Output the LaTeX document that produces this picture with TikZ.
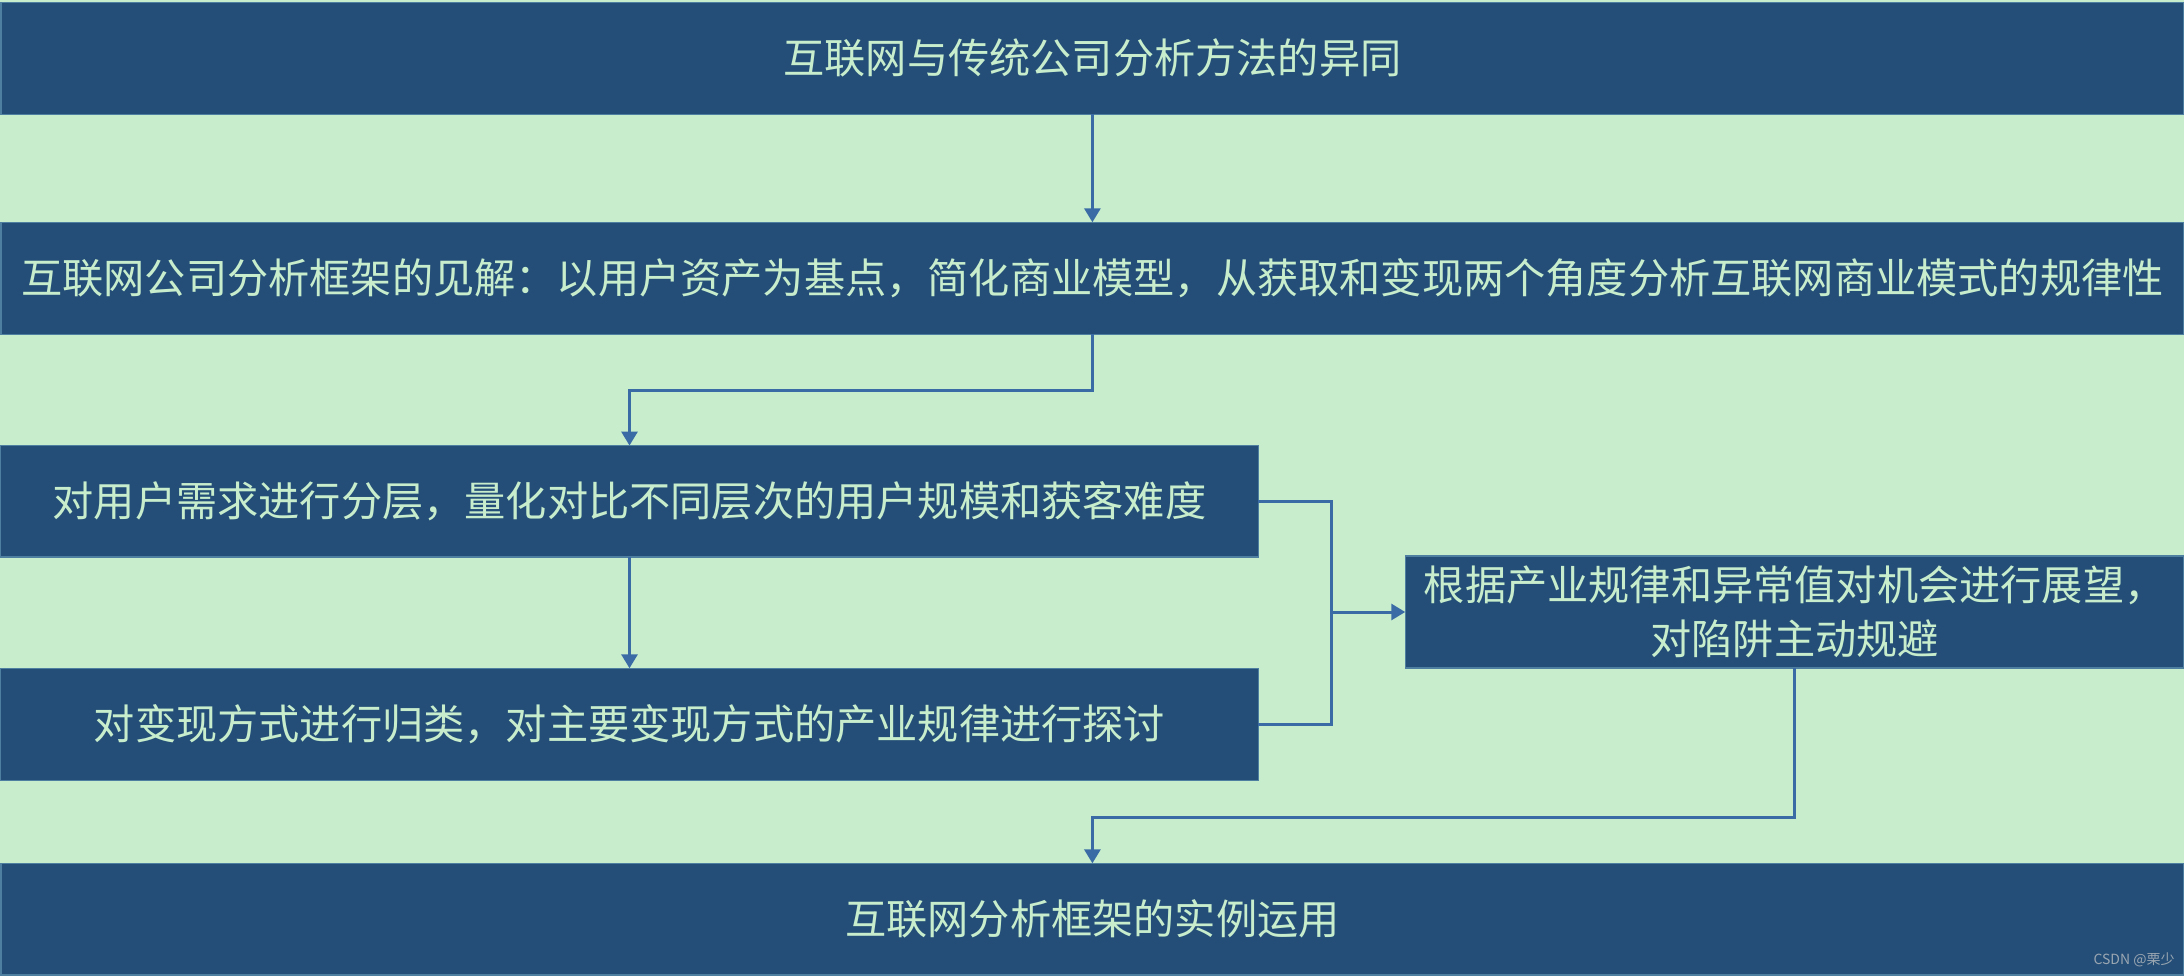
\documentclass[tikz,border=0pt]{standalone}
\usepackage{fontspec}
\newfontfamily\cjk{Noto Sans CJK SC}
\usetikzlibrary{arrows.meta}
\definecolor{bg}{HTML}{C7EDCD}
\definecolor{boxfill}{HTML}{244E77}
\definecolor{boxedge}{HTML}{4E7FA0}
\definecolor{txt}{HTML}{C7EDCD}
\definecolor{arrowc}{HTML}{3A6BA5}
\definecolor{wm}{HTML}{9AA6B2}
\tikzset{
  box/.style={rectangle, fill=boxfill, draw=boxedge, line width=1.5pt, inner sep=0pt, outer sep=0pt,
    text=txt, font=\cjk\fontsize{41.2}{54}\selectfont, align=center},
  ln/.style={draw=arrowc, line width=3pt},
  arr/.style={ln, -{Triangle[width=16pt,length=14pt]}}
}
\begin{document}
\begin{tikzpicture}[x=1pt,y=-1pt]
\fill[bg] (0,0) rectangle (2184,976);
\useasboundingbox (0,0) rectangle (2184,976);
\node[box, minimum width=2183pt, minimum height=112pt] (b1) at (1092.4,58.3) {互联网与传统公司分析方法的异同};
\node[box, minimum width=2183pt, minimum height=112pt] (b2) at (1092.4,278.3) {互联网公司分析框架的见解：以用户资产为基点，简化商业模型，从获取和变现两个角度分析互联网商业模式的规律性};
\node[box, minimum width=1257.6pt, minimum height=111.5pt] (b3) at (629.5,501.3) {对用户需求进行分层，量化对比不同层次的用户规模和获客难度};
\node[box, minimum width=1257.6pt, minimum height=112pt] (b4) at (629.5,724.3) {对变现方式进行归类，对主要变现方式的产业规律进行探讨};
\node[box, minimum width=778.7pt, minimum height=112pt] (b5) at (1794.6,612) {根据产业规律和异常值对机会进行展望，\\对陷阱主动规避};
\node[box, minimum width=2183pt, minimum height=111.7pt] (b6) at (1092.4,919.2) {互联网分析框架的实例运用};
\coordinate (j) at (1331.7,612);
\draw[arr] (b1) -- (b2);
\draw[arr] (b2.south) -- ++(0,56) -| (b3.north);
\draw[arr] (b3) -- (b4);
\draw[ln] (b3.east) -| (j);
\draw[ln] (b4.east) -| (j);
\draw[arr] (j) -- (b5.west);
\draw[arr] (b5.south) -- ++(0,149) -| (b6.north);
\node[text=wm, font=\cjk\fontsize{14}{16}\selectfont, inner sep=0pt] (wmk) at (2134,960) {CSDN @栗少};
\end{tikzpicture}
\end{document}
